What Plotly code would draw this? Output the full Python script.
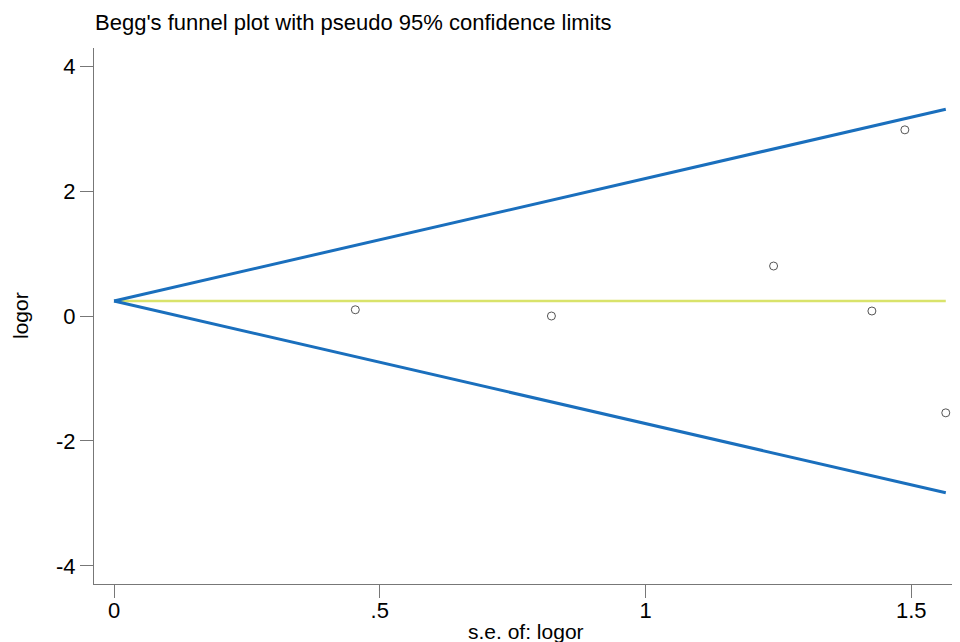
import plotly.graph_objects as go

# Study data
se_logor = [0.454, 0.823, 1.241, 1.426, 1.488, 1.565]
logor = [0.10, 0.00, 0.80, 0.08, 2.98, -1.55]

# Funnel / pooled lines endpoints
line_se = [0.0, 1.565]
pooled = [0.24, 0.24]
upper_limit = [0.24, 3.31]
lower_limit = [0.24, -2.83]

x_ticks = [0, 0.5, 1, 1.5]
x_ticklabels = ["0", ".5", "1", "1.5"]
y_ticks = [-4, -2, 0, 2, 4]
y_ticklabels = ["-4", "-2", "0", "2", "4"]

blue = "#1a6fbd"
yellow = "#d9e36b"

# page body has an 8px margin, so the figure is drawn 8px in from the window corner
W, H = 952, 634
OFF = 8
pl, pr, pt, pb = 86, 2, 40, 58
pw, ph = W - pl - pr, H - pt - pb


def paper_xy(px, py):
    """window pixel -> paper coords"""
    return (px - OFF - pl) / pw, 1 - (py - OFF - pt) / ph


fig = go.Figure()
fig.add_trace(go.Scatter(x=line_se, y=pooled, mode="lines",
                         line=dict(color=yellow, width=2.5), showlegend=False, hoverinfo="skip"))
fig.add_trace(go.Scatter(x=line_se, y=upper_limit, mode="lines",
                         line=dict(color=blue, width=3), showlegend=False, hoverinfo="skip"))
fig.add_trace(go.Scatter(x=line_se, y=lower_limit, mode="lines",
                         line=dict(color=blue, width=3), showlegend=False, hoverinfo="skip"))
fig.add_trace(go.Scatter(x=se_logor, y=logor, mode="markers", cliponaxis=False,
                         marker=dict(symbol="circle-open", size=8, color="#555555",
                                     line=dict(width=1, color="#555555")),
                         showlegend=False))

font_family = "Liberation Sans, Arial, sans-serif"
xt_x, xt_y = paper_xy(526, 631)
yt_x, yt_y = paper_xy(20, 316)
fig.update_layout(
    width=W, height=H,
    margin=dict(l=pl, r=pr, t=pt, b=pb),
    paper_bgcolor="white", plot_bgcolor="white",
    font=dict(family=font_family, color="#000000"),
    title=dict(text="Begg's funnel plot with pseudo 95% confidence limits",
               x=(95 - OFF) / W, xanchor="left", y=1 - (22 - OFF) / H, yanchor="middle",
               font=dict(size=22, family=font_family, color="#000000")),
    xaxis=dict(range=[-0.0377, 1.588], tickvals=x_ticks, ticktext=x_ticklabels,
               automargin=False,
               showgrid=False, zeroline=False, showline=True, linecolor="#777777", linewidth=1,
               ticks="outside", ticklen=13, tickcolor="#777777", tickwidth=1,
               ticklabelstandoff=-6,
               tickfont=dict(size=22, family=font_family)),
    yaxis=dict(range=[-4.29, 4.29], tickvals=y_ticks, ticktext=y_ticklabels,
               automargin=False,
               showgrid=False, zeroline=False, showline=True, linecolor="#777777", linewidth=1,
               ticks="outside", ticklen=13, tickcolor="#777777", tickwidth=1,
               tickfont=dict(size=22, family=font_family)),
    annotations=[
        dict(text="s.e. of: logor", x=xt_x, y=xt_y, xref="paper", yref="paper",
             xanchor="center", yanchor="middle", showarrow=False,
             font=dict(size=21, family=font_family, color="#000000")),
        dict(text="logor", x=yt_x, y=yt_y, xref="paper", yref="paper",
             xanchor="center", yanchor="middle", showarrow=False, textangle=-90,
             font=dict(size=21, family=font_family, color="#000000")),
    ],
)

fig.write_html("out.html")
